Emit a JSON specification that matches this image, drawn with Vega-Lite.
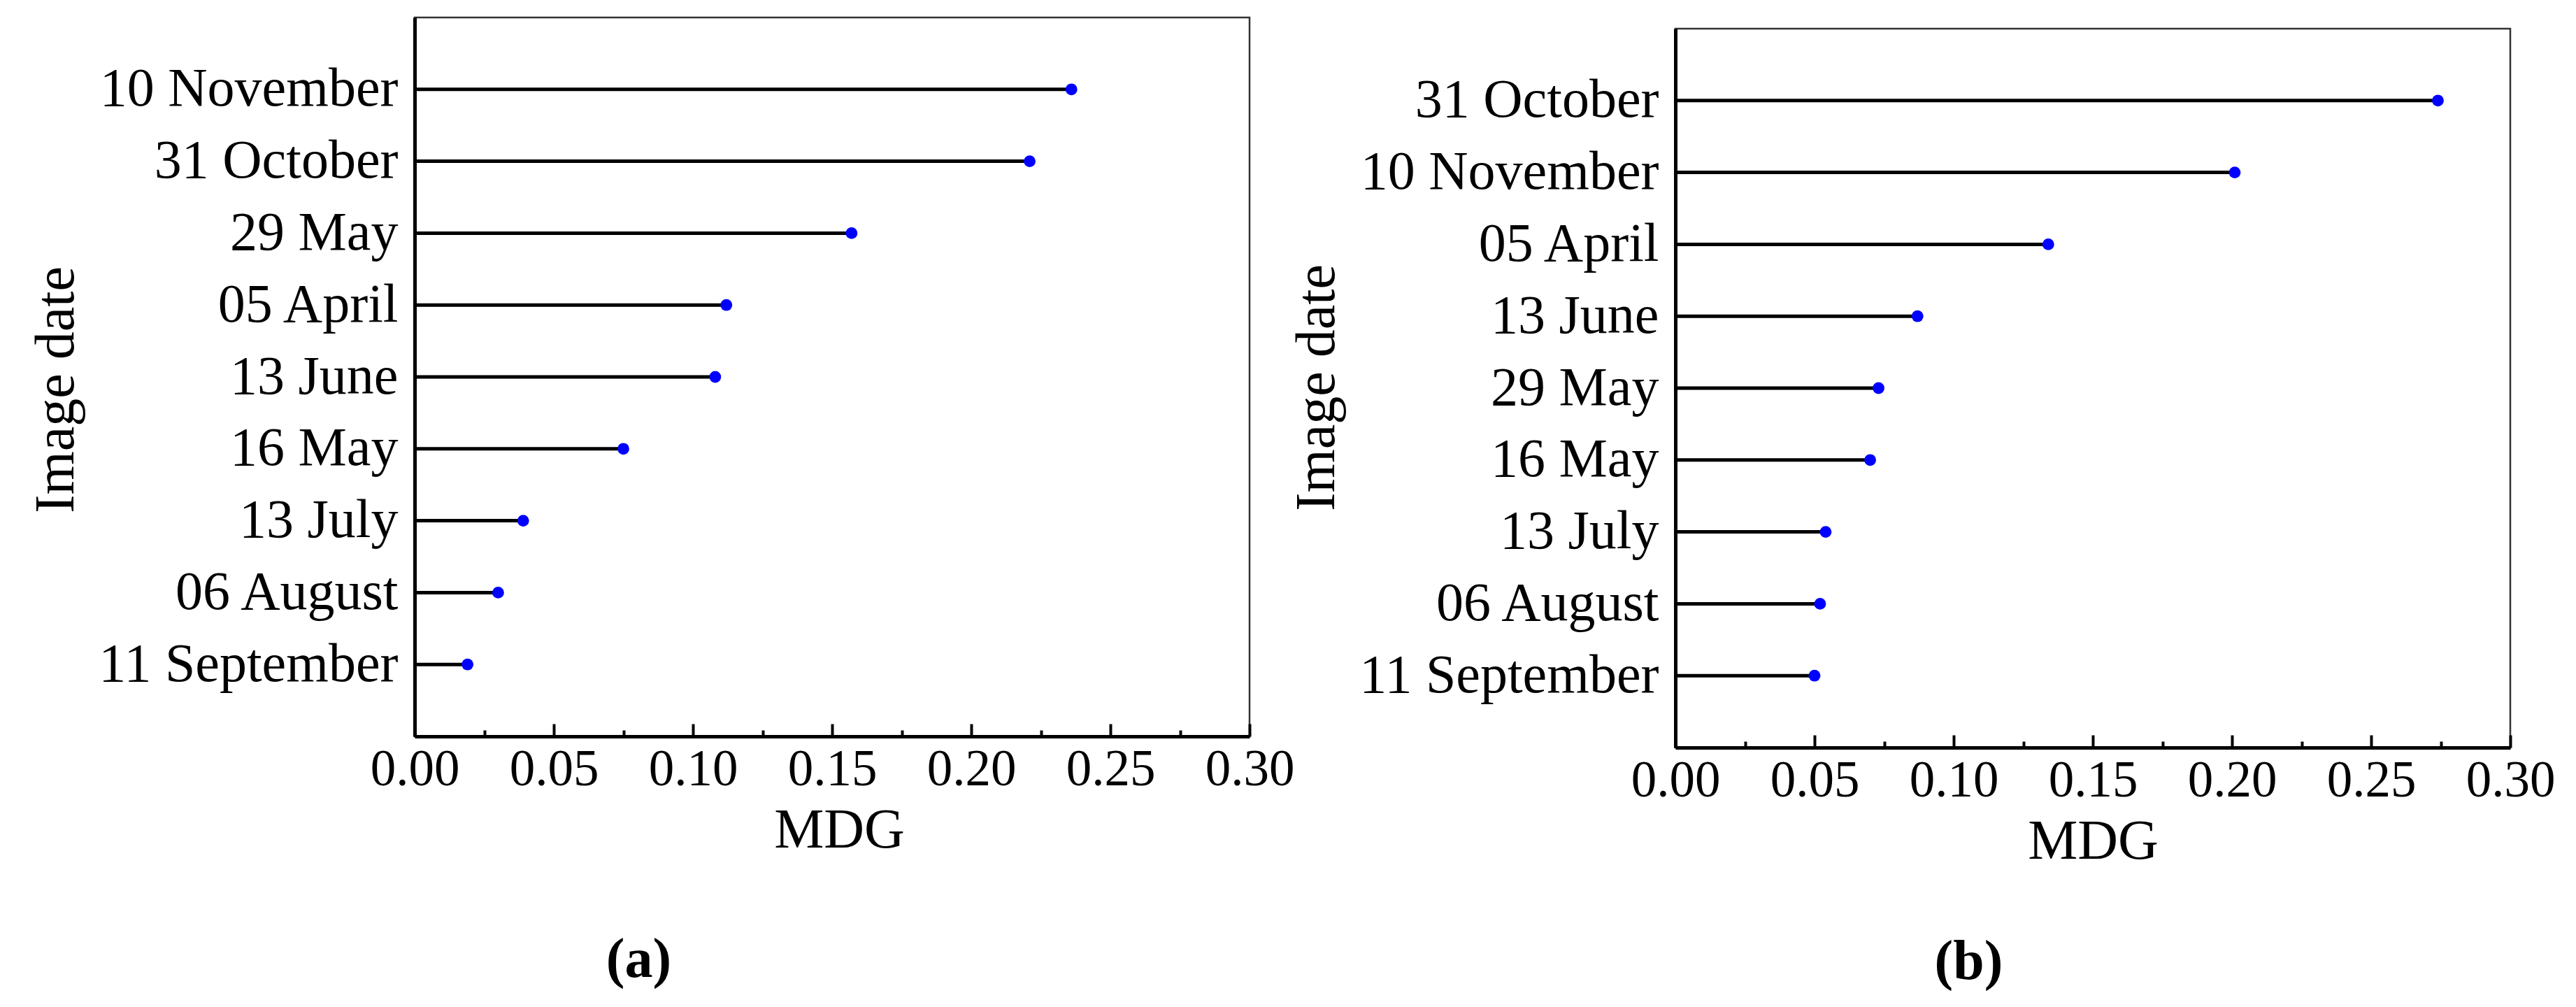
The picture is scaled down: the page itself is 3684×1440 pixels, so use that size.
{
  "$schema": "https://vega.github.io/schema/vega-lite/v6.json",
  "padding": {"left": 38, "top": 23, "right": 0, "bottom": 0},
  "background": "white",
  "spacing": -12,
  "datasets": {
    "a": [
      {"date": "10 November", "MDG": 0.236},
      {"date": "31 October", "MDG": 0.221},
      {"date": "29 May", "MDG": 0.157},
      {"date": "05 April", "MDG": 0.112},
      {"date": "13 June", "MDG": 0.108},
      {"date": "16 May", "MDG": 0.075},
      {"date": "13 July", "MDG": 0.039},
      {"date": "06 August", "MDG": 0.030},
      {"date": "11 September", "MDG": 0.019}
    ],
    "b": [
      {"date": "31 October", "MDG": 0.274},
      {"date": "10 November", "MDG": 0.201},
      {"date": "05 April", "MDG": 0.134},
      {"date": "13 June", "MDG": 0.087},
      {"date": "29 May", "MDG": 0.073},
      {"date": "16 May", "MDG": 0.070},
      {"date": "13 July", "MDG": 0.054},
      {"date": "06 August", "MDG": 0.052},
      {"date": "11 September", "MDG": 0.050}
    ]
  },
  "hconcat": [
    {
      "width": 1194,
      "height": 1028,
      "data": {"name": "a"},
      "encoding": {
        "y": {
          "field": "date", "type": "nominal", "sort": null,
          "scale": {"type": "point", "padding": 1},
          "axis": {"title": "Image date", "ticks": false, "domainWidth": 5, "labelFontSize": 78, "labelPadding": 24,
                   "titleFontSize": 80, "titleBaseline": "alphabetic", "titleAngle": -90, "titleX": -489, "titleY": 532}
        }
      },
      "layer": [
        {
          "mark": {"type": "rule", "color": "#000000", "strokeWidth": 5},
          "encoding": {
            "x": {"field": "MDG", "type": "quantitative", "scale": {"domain": [0, 0.3], "nice": false},
                  "axis": {"orient": "bottom", "values": [0, 0.05, 0.1, 0.15, 0.2, 0.25, 0.3], "format": ".2f",
                           "tickSize": -18, "tickWidth": 4, "domainWidth": 5, "labelFontSize": 73,
                           "labelBaseline": "alphabetic", "labelPadding": 87, "labelFlush": false, "labelOverlap": false,
                           "title": "MDG", "titleFontSize": 80, "titleBaseline": "alphabetic", "titleY": 158, "titleX": 607}},
            "x2": {"datum": 0}
          }
        },
        {
          "mark": {"type": "circle", "color": "#0000FF", "opacity": 1, "size": 283},
          "encoding": {
            "x": {"field": "MDG", "type": "quantitative", "scale": {"domain": [0, 0.3], "nice": false},
                  "axis": {"orient": "bottom", "values": [0.025, 0.075, 0.125, 0.175, 0.225, 0.275],
                           "labels": false, "domain": false, "tickSize": -9, "tickWidth": 4,
                           "title": "(a)", "titleFontSize": 80, "titleFontWeight": "bold", "titleBaseline": "alphabetic",
                           "titleAlign": "center", "titleX": 320, "titleY": 343}}
          }
        }
      ],
      "resolve": {"axis": {"x": "independent"}}
    },
    {
      "spacing": 0,
      "vconcat": [
        {
          "width": 1194,
          "height": 13,
          "data": {"values": []},
          "mark": "point",
          "view": {"stroke": "transparent"}
        },
        {
          "width": 1194,
          "height": 1028,
          "data": {"name": "b"},
          "encoding": {
            "y": {
              "field": "date", "type": "nominal", "sort": null,
              "scale": {"type": "point", "padding": 1},
              "axis": {"title": "Image date", "ticks": false, "domainWidth": 5, "labelFontSize": 78, "labelPadding": 24,
                       "titleFontSize": 80, "titleBaseline": "alphabetic", "titleAngle": -90, "titleX": -489, "titleY": 513}
            }
          },
          "layer": [
            {
              "mark": {"type": "rule", "color": "#000000", "strokeWidth": 5},
              "encoding": {
                "x": {"field": "MDG", "type": "quantitative", "scale": {"domain": [0, 0.3], "nice": false},
                      "axis": {"orient": "bottom", "values": [0, 0.05, 0.1, 0.15, 0.2, 0.25, 0.3], "format": ".2f",
                               "tickSize": -18, "tickWidth": 4, "domainWidth": 5, "labelFontSize": 73,
                               "labelBaseline": "alphabetic", "labelPadding": 87, "labelFlush": false, "labelOverlap": false,
                               "title": "MDG", "titleFontSize": 80, "titleBaseline": "alphabetic", "titleY": 158, "titleX": 597}},
                "x2": {"datum": 0}
              }
            },
            {
              "mark": {"type": "circle", "color": "#0000FF", "opacity": 1, "size": 283},
              "encoding": {
                "x": {"field": "MDG", "type": "quantitative", "scale": {"domain": [0, 0.3], "nice": false},
                      "axis": {"orient": "bottom", "values": [0.025, 0.075, 0.125, 0.175, 0.225, 0.275],
                               "labels": false, "domain": false, "tickSize": -9, "tickWidth": 4,
                               "title": "(b)", "titleFontSize": 80, "titleFontWeight": "bold", "titleBaseline": "alphabetic",
                               "titleAlign": "center", "titleX": 419, "titleY": 330}}
              }
            }
          ],
          "resolve": {"axis": {"x": "independent"}}
        }
      ]
    }
  ],
  "config": {
    "font": "Liberation Serif",
    "view": {"stroke": "#333333", "strokeWidth": 2.5},
    "title": {"color": "#000000", "font": "Liberation Serif"},
    "axis": {
      "labelFont": "Liberation Serif", "titleFont": "Liberation Serif",
      "labelColor": "#000000", "titleColor": "#000000", "domainColor": "#000000", "tickColor": "#000000",
      "titleFontWeight": "normal", "grid": false, "labelLimit": 1000, "titleLimit": 2000
    }
  }
}
